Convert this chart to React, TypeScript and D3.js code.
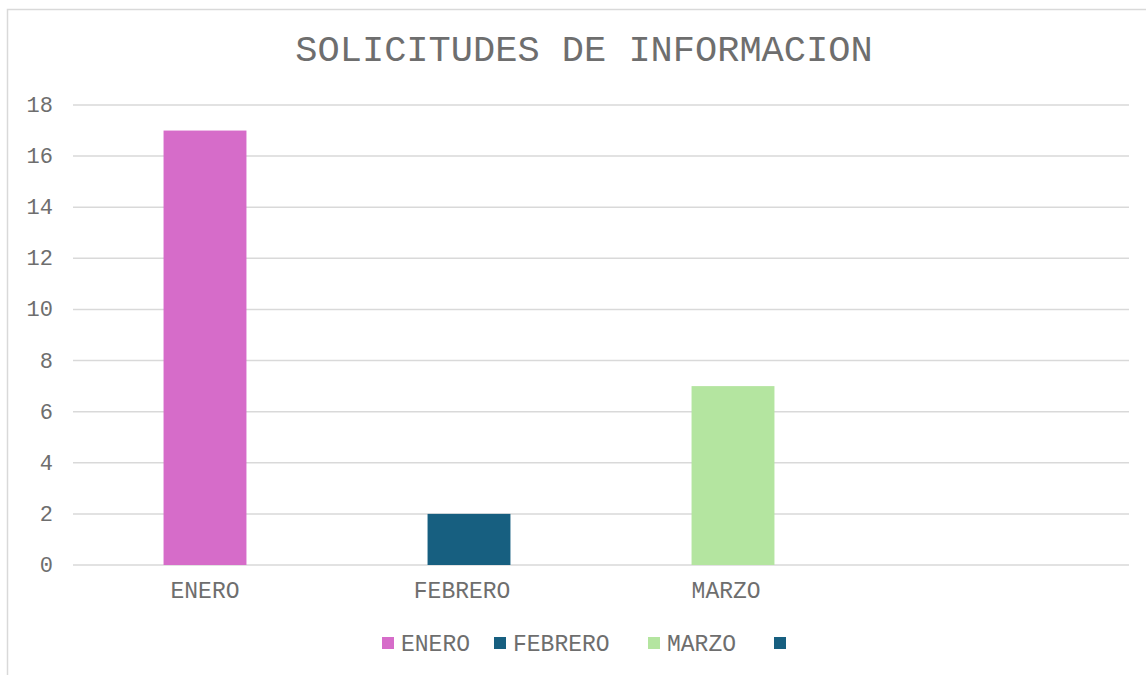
import { scaleBand, scaleLinear, range } from "d3"

const categories = ["ENERO", "FEBRERO ", "MARZO ", ""]
const values = [17, 2, 7, null]
const colors = ["#d66cc9", "#175f80", "#b4e5a0", "#175f80"]
const yTicks = range(0, 20, 2)

const W = 1146
const H = 675
const font = "'Liberation Mono', 'Courier New', monospace"
const textColor = "#6e6e6e"

const App = () => {
    const left = 73
    const right = 1129
    const top = 105
    const bottom = 565

    const keys = categories.map((c, i) => c + "#" + i)
    const x = scaleBand<string>()
        .domain(keys)
        .range([left, right])
        .paddingInner(0.686)
        .paddingOuter(0.343)
    const band = scaleBand<string>()
        .domain(keys)
        .range([left, right])

    const y = scaleLinear().domain([0, 18]).range([bottom, top])

    // legend: square, 7px gap, label (trailing spaces count), 23px gap
    const legendFs = 23
    const charW = 14
    const gap = 23
    const items = categories.map((c, i) => ({ c, i, w: 12 + (c ? 7 + c.length * charW : 0) }))
    const total = items.reduce((s, d) => s + d.w, 0) + gap * (items.length - 1)
    let cur = 584 - total / 2
    const legend = items.map(d => {
        const pos = cur
        cur += d.w + gap
        return { ...d, x: pos }
    })

    return (
        <svg width={W} height={H} style={{ position: "absolute", left: 0, top: 0, background: "#fff" }}>
            <rect x={7.5} y={9.5} width={W + 20} height={H + 20} fill="#fff" stroke="#d9d9d9" strokeWidth={1.5} />
            <text x={584} y={61} textAnchor="middle" fontFamily={font} fontSize={37} fill={textColor}>
                SOLICITUDES DE INFORMACION
            </text>
            {yTicks.map(t => (
                <g key={t}>
                    <line x1={left} x2={right} y1={y(t)} y2={y(t)} stroke="#d9d9d9" strokeWidth={1.5} />
                    <text x={53} y={y(t) + 7} textAnchor="end" fontFamily={font} fontSize={22} fill={textColor}>
                        {t}
                    </text>
                </g>
            ))}
            {keys.map((key, i) => {
                const v = values[i]
                return (
                    <g key={key}>
                        {v != null && (
                            <rect x={x(key)} y={y(v)} width={x.bandwidth()} height={y(0) - y(v)} fill={colors[i]} />
                        )}
                        <text x={(band(key) ?? 0) + band.bandwidth() / 2} y={598} textAnchor="middle"
                            fontFamily={font} fontSize={23} fill={textColor} style={{ whiteSpace: "pre" }}>
                            {categories[i]}
                        </text>
                    </g>
                )
            })}
            {legend.map(d => (
                <g key={d.i}>
                    <rect x={d.x} y={637} width={12} height={12} fill={colors[d.i]} />
                    <text x={d.x + 19} y={651} fontFamily={font} fontSize={legendFs} fill={textColor}
                        style={{ whiteSpace: "pre" }}>{d.c}</text>
                </g>
            ))}
        </svg>
    )
}

export default App
